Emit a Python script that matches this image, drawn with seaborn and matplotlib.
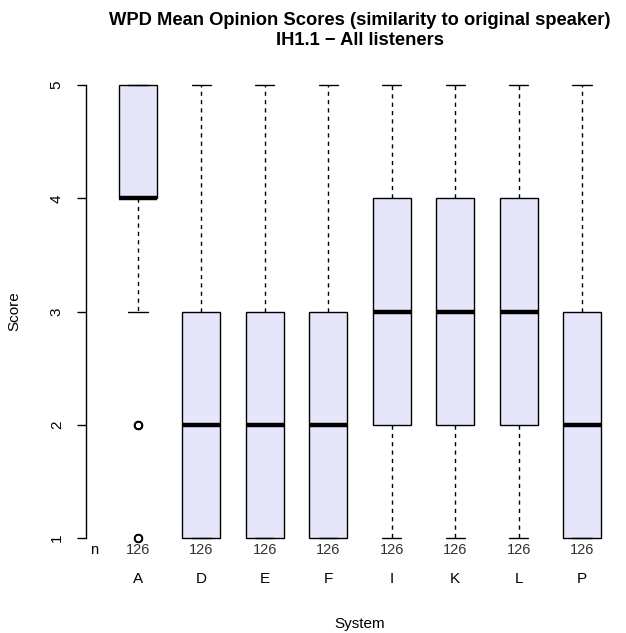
import numpy as np
import pandas as pd
import matplotlib
matplotlib.use('Agg')
import matplotlib.pyplot as plt
import seaborn as sns

# systems and estimated score counts (scores 1..5), 126 ratings each
systems = ['A', 'D', 'E', 'F', 'I', 'K', 'L', 'P']
scores = [1, 2, 3, 4, 5]
counts_A = [2, 3, 10, 60, 51]
counts_D = [35, 35, 30, 16, 10]
counts_E = [34, 36, 30, 15, 11]
counts_F = [33, 37, 31, 14, 11]
counts_I = [15, 30, 35, 30, 16]
counts_K = [14, 31, 36, 29, 16]
counts_L = [16, 29, 35, 31, 15]
counts_P = [33, 35, 30, 16, 12]
all_counts = [counts_A, counts_D, counts_E, counts_F,
              counts_I, counts_K, counts_L, counts_P]

rows = []
for sys_name, cnt in zip(systems, all_counts):
    for s in np.repeat(scores, cnt):
        rows.append((sys_name, s))
df = pd.DataFrame(rows, columns=['System', 'Score'])
n_per_system = df.groupby('System')['Score'].count().reindex(systems)

sns.set_style('white')
plt.rcParams['font.family'] = ['Liberation Sans', 'DejaVu Sans']
plt.rcParams['text.color'] = 'black'
plt.rcParams['axes.labelcolor'] = 'black'
plt.rcParams['xtick.color'] = 'black'
plt.rcParams['ytick.color'] = 'black'

fig = plt.figure(figsize=(6.26, 6.33), dpi=100)
ax = fig.add_axes([86 / 626, 77 / 633, 548 / 626, 489 / 633])

sns.boxplot(data=df, x='System', y='Score', order=systems, ax=ax,
            color='#E6E6FA', saturation=1, width=0.6, whis=1.5,
            linecolor='black', linewidth=1,
            medianprops=dict(linewidth=3.2, color='black'),
            whiskerprops=dict(linestyle=(0, (3, 3))),
            flierprops=dict(marker='o', markerfacecolor='none',
                            markeredgecolor='black', markersize=5.5,
                            markeredgewidth=1.2))

ax.set_xlim(-0.82, 7.82)
ax.set_ylim(0.84, 5.16)
ax.set_yticks([1, 2, 3, 4, 5])
for sp in ['top', 'right', 'bottom']:
    ax.spines[sp].set_visible(False)
ax.spines['left'].set_bounds(1, 5)
ax.spines['left'].set_color('black')
ax.spines['left'].set_linewidth(1)

ax.tick_params(axis='y', left=True, length=6.5, width=1, color='black',
               pad=9.5, labelsize=11, labelrotation=90)
for lbl in ax.get_yticklabels():
    lbl.set_va('center')
ax.tick_params(axis='x', bottom=False, length=0, pad=11.5, labelsize=11)

# n row under the boxes
ax.text(-0.70, 0.894, 'n', ha='center', va='center', fontsize=10.5, clip_on=False)
for i, n in enumerate(n_per_system):
    ax.text(i, 0.894, str(n), ha='center', va='center', fontsize=10.5,
            color='#333333', clip_on=False)

ax.set_xlabel('System', fontsize=11)
ax.set_ylabel('Score', fontsize=11)
ax.xaxis.set_label_coords(0.5, -0.125)
ax.yaxis.set_label_coords(-0.1186, 0.5)

ax.set_title('WPD Mean Opinion Scores (similarity to original speaker)\nIH1.1 \u2212 All listeners',
             fontsize=13.2, fontweight='bold', pad=16)

fig.savefig('out.png', dpi=100)
